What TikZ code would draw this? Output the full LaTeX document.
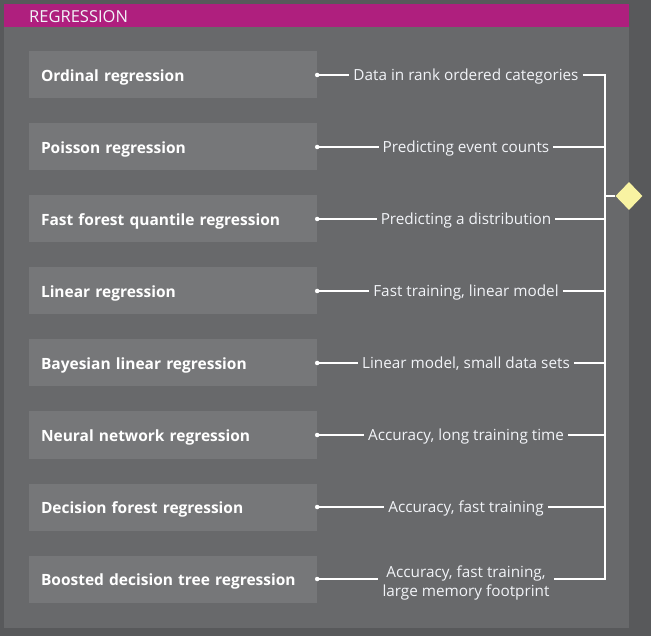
\documentclass[tikz,border=0pt]{standalone}
\usepackage{fontspec}
\setmainfont{Open Sans}
\usepackage{xcolor}
\usepackage{tikz}
\usetikzlibrary{shapes.geometric, positioning, calc}
\definecolor{rgouter}{HTML}{58595B}
\definecolor{rgheader}{HTML}{AF1F7E}
\definecolor{rgpanel}{HTML}{68696B}
\definecolor{rgbox}{HTML}{767779}
\definecolor{rgtext}{HTML}{F2F4F8}
\definecolor{rgdiamond}{HTML}{F8F3A2}

\begin{document}
\begin{tikzpicture}[
    x=1pt, y=-1pt,
    method/.style={rectangle, fill=rgbox, minimum width=288pt, minimum height=47pt, text width=264pt, inner xsep=12pt, align=left, text height=13pt, text depth=0pt, font=\fontsize{15.5}{18}\selectfont\bfseries, text=white},
    hint/.style={inner xsep=4pt, inner ysep=1pt, align=center, font=\fontsize{15.3}{19}\selectfont, text=rgtext},
    hintline/.style={hint, text height=11pt, text depth=0pt},
    link/.style={draw=white, line width=1.2pt},
    pin/.style={circle, fill=white, inner sep=0pt, minimum size=4.5pt}
]

% Background and panel
\fill[rgouter] (0,0) rectangle (651,636);
\fill[rgpanel] (4,27) rectangle (629,628);
\fill[rgheader] (4,4) rectangle (629,27);
\node[anchor=west, font=\fontsize{16.5}{18}\selectfont, text=rgtext, inner sep=0pt] (title) at (29,16.5) {REGRESSION};
\useasboundingbox (0,0) rectangle (651,636);

% Methods
\node[method] (m1) at (173,75) {Ordinal regression};
\node[method] (m2) at (173,147) {Poisson regression};
\node[method] (m3) at (173,219) {Fast forest quantile regression};
\node[method] (m4) at (173,291) {Linear regression};
\node[method] (m5) at (173,363) {Bayesian linear regression};
\node[method] (m6) at (173,435) {Neural network regression};
\node[method] (m7) at (173,507) {Decision forest regression};
\node[method] (m8) at (173,579) {Boosted decision tree regression};

% Descriptions
\node[hintline] (d1) at (466,75) {Data in rank ordered categories};
\node[hintline] (d2) at (466,147) {Predicting event counts};
\node[hintline] (d3) at (466,219) {Predicting a distribution};
\node[hintline] (d4) at (466,291) {Fast training, linear model};
\node[hintline] (d5) at (466,363) {Linear model, small data sets};
\node[hintline] (d6) at (466,435) {Accuracy, long training time};
\node[hintline] (d7) at (466,507) {Accuracy, fast training};
\node[hint] (d8) at (466,583) {Accuracy, fast training,\\large memory footprint};

% Rail and diamond
\coordinate (rail) at (605,0);
\node[diamond, fill=rgdiamond, minimum width=27pt, minimum height=28pt, inner sep=0pt] (dia) at (629,196) {};

% Connectors
\draw[link] (m1.east) -- (m1.east -| d1.west);
\draw[link] (m2.east) -- (m2.east -| d2.west);
\draw[link] (m3.east) -- (m3.east -| d3.west);
\draw[link] (m4.east) -- (m4.east -| d4.west);
\draw[link] (m5.east) -- (m5.east -| d5.west);
\draw[link] (m6.east) -- (m6.east -| d6.west);
\draw[link] (m7.east) -- (m7.east -| d7.west);
\draw[link] (m8.east) -- (m8.east -| d8.west);

\draw[link] (m2.east -| d2.east) -- (m2.east -| rail);
\draw[link] (m3.east -| d3.east) -- (m3.east -| rail);
\draw[link] (m4.east -| d4.east) -- (m4.east -| rail);
\draw[link] (m5.east -| d5.east) -- (m5.east -| rail);
\draw[link] (m6.east -| d6.east) -- (m6.east -| rail);
\draw[link] (m7.east -| d7.east) -- (m7.east -| rail);
\draw[link] (m1.east -| d1.east) -- (m1.east -| rail) -- (m8.east -| rail) -- (m8.east -| d8.east);
\draw[link] (dia.west) -- (dia.west -| rail);

% Pins
\node[pin] (p1) at (m1.east) {};
\node[pin] (p2) at (m2.east) {};
\node[pin] (p3) at (m3.east) {};
\node[pin] (p4) at (m4.east) {};
\node[pin] (p5) at (m5.east) {};
\node[pin] (p6) at (m6.east) {};
\node[pin] (p7) at (m7.east) {};
\node[pin] (p8) at (m8.east) {};

\end{tikzpicture}
\end{document}
